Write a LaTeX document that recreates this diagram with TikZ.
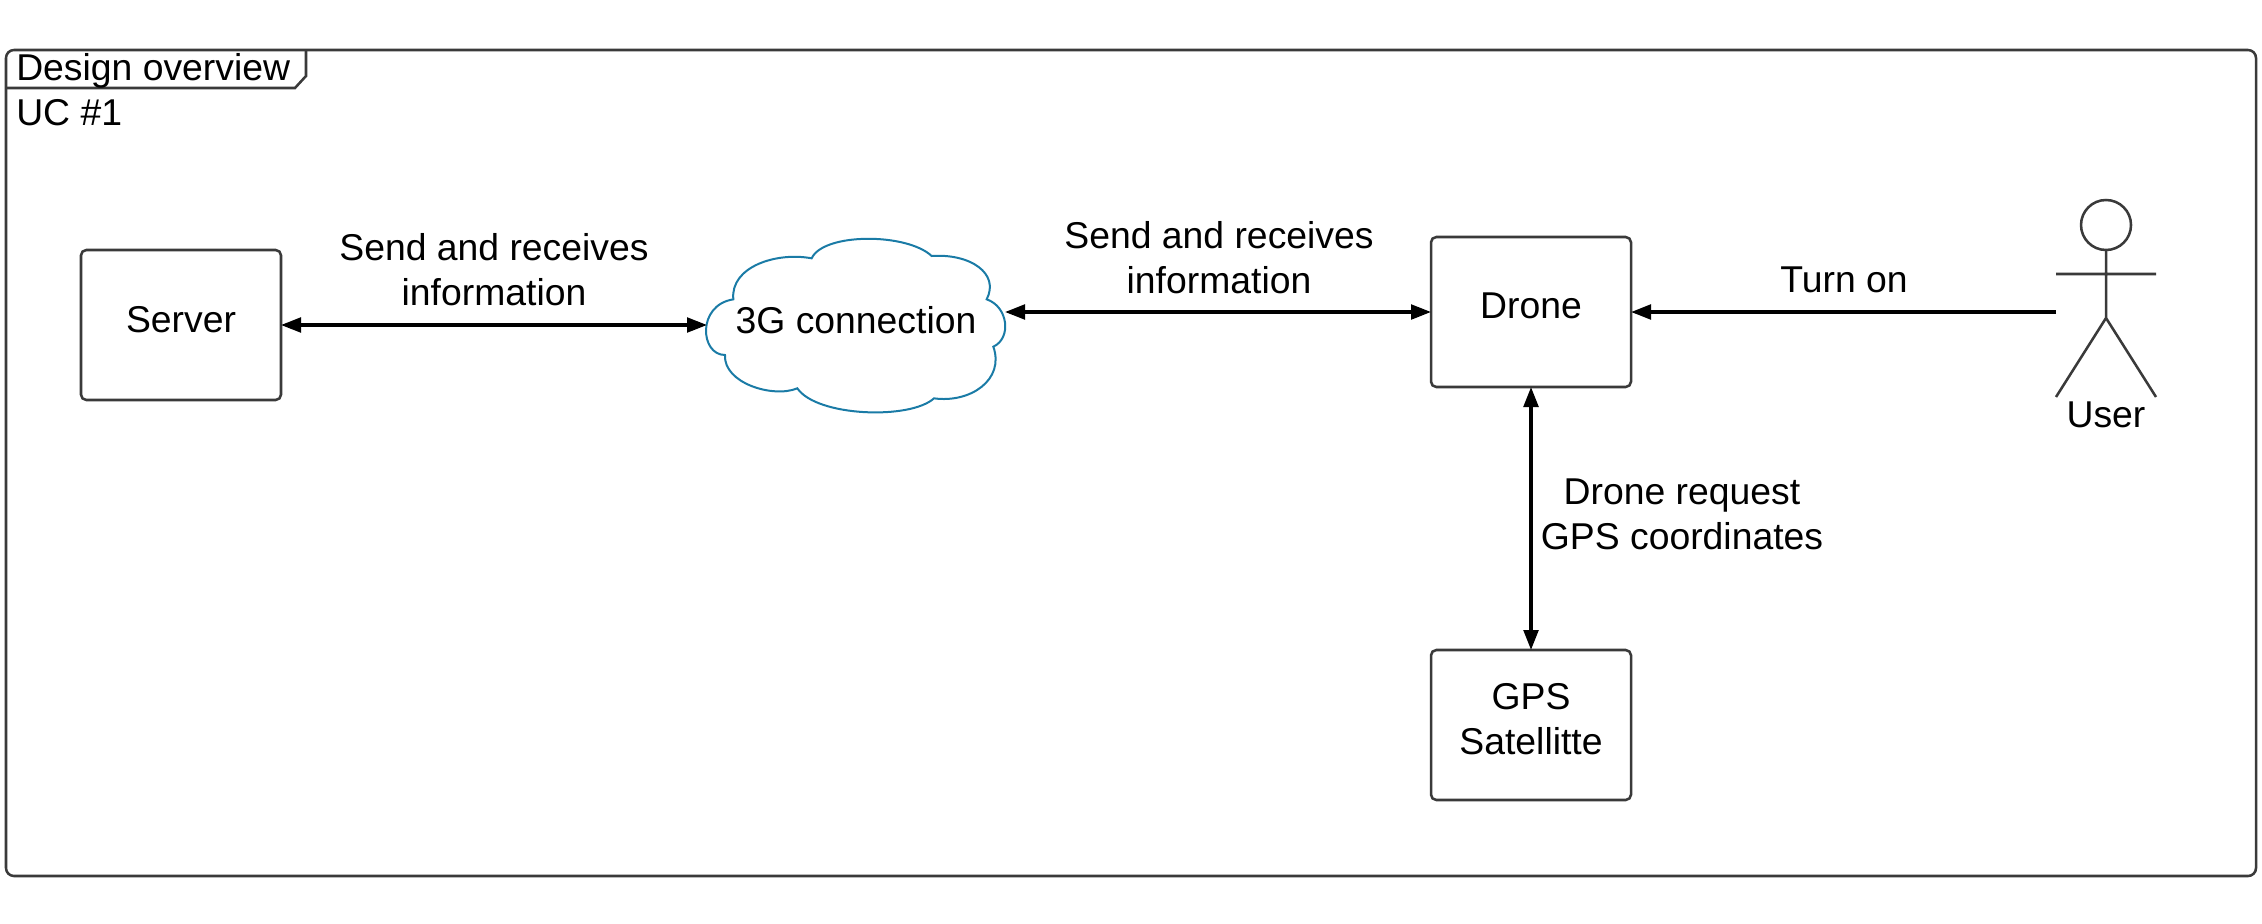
\documentclass[tikz,border=0pt]{standalone}
\usepackage{fontspec}
\setmainfont{Liberation Sans}
\usetikzlibrary{arrows.meta}
\definecolor{linegrey}{HTML}{3A3A3A}
\definecolor{cloudblue}{HTML}{1A7BA6}
\tikzset{
  lbl/.style={font=\fontsize{28}{33.6}\selectfont,align=center,inner sep=0pt,text=black},
  boxnode/.style={lbl,draw=linegrey,line width=1.9pt,rounded corners=4pt,minimum width=150pt,minimum height=112.5pt,outer sep=0pt,text depth=9pt},
  conn/.style={draw=black,line width=2.5pt},
  headtip/.tip={Triangle[length=15pt,width=11pt]},
  thinline/.style={draw=linegrey,line width=1.9pt},
}
\begin{document}
\begin{tikzpicture}[x=0.75pt,y=-0.75pt]
\useasboundingbox (0,0) rectangle (2262,924);
% frame
\draw[thinline,rounded corners=6pt] (6,50) rectangle (2256,876);
\draw[thinline] (6,88) -- (295,88) -- (306,76) -- (306,50);
\node[lbl,anchor=west] (title) at (16,71) {Design overview};
\node[lbl,anchor=west] (uc) at (16,113) {UC \#1};
% boxes
\node[boxnode] (server) at (181,325) {Server};
\node[boxnode] (drone) at (1531,312) {Drone};
\node[boxnode] (gps) at (1531,725) {GPS\\Satellitte};
% cloud
\begin{scope}[shift={(680,210)},x=0.25pt,y=-0.25pt]
\draw[draw=cloudblue,line width=1.5pt]
 (160,268) .. controls (150,170) and (290,125) .. (395,145)
 .. controls (430,68) and (680,68) .. (755,138)
 .. controls (870,130) and (960,190) .. (920,268)
 .. controls (985,290) and (995,385) .. (940,410)
 .. controls (975,510) and (870,580) .. (762,565)
 .. controls (690,630) and (410,620) .. (352,535)
 .. controls (280,565) and (130,520) .. (135,435)
 .. controls (60,435) and (50,285) .. (160,268) -- cycle;
\end{scope}
\node[lbl] (cloud) at (856,320) {3G connection};
\coordinate (cloudW) at (707,325);
\coordinate (cloudE) at (1005,312);
% actor
\draw[thinline] (2106,225) ellipse [x radius=25,y radius=25];
\coordinate (actorHand) at (2056,312);
\draw[thinline] (2106,250) -- (2106,318) (2056,274) -- (2156,274)
  (2056,397) -- (2106,318) -- (2156,397);
\node[lbl] (user) at (2106,415) {User};
% connectors
\draw[conn,{headtip}-{headtip}] (server.east) -- (cloudW);
\draw[conn,{headtip}-{headtip}] (cloudE) -- (drone.west);
\draw[conn,-{headtip}] (actorHand) -- (drone.east);
\draw[conn,{headtip}-{headtip}] (drone.south) -- (gps.north);
% labels
\node[lbl] (l1) at (494,270) {Send and receives\\information};
\node[lbl] (l2) at (1219,258) {Send and receives\\information};
\node[lbl] (l3) at (1844,280) {Turn on};
\node[lbl] (l4) at (1682,514) {Drone request\\GPS coordinates};
\end{tikzpicture}
\end{document}
